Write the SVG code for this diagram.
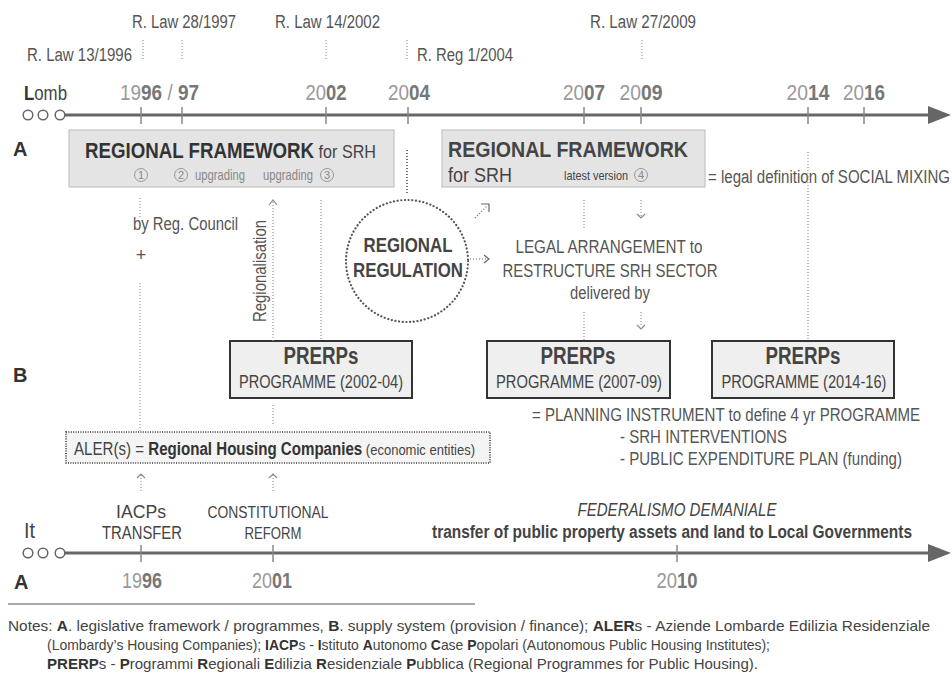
<svg xmlns="http://www.w3.org/2000/svg" width="952" height="679" viewBox="0 0 952 679">
  <defs>
    <style>
      text { font-family: "Liberation Sans Narrow", "Liberation Sans", Arial, sans-serif; fill: #444; }
      .b { font-weight: bold; }
      .law { font-size: 18px; fill: #555; }
      .yr { font-size: 22px; fill: #999; }
      .yr .b { fill: #777; }
      .lbl { font-size: 20px; font-weight: bold; fill: #333; }
      .dot { stroke: #999; stroke-width: 1.2; stroke-dasharray: 1 2; fill: none; }
      .chev { stroke: #888; stroke-width: 1.2; fill: none; }
      .tick { stroke: #888; stroke-width: 1.5; }
      .axis { stroke: #666; stroke-width: 3; fill: none; }
      .ring { stroke: #666; stroke-width: 1.5; fill: #fff; }
      .fw { fill: #e4e4e4; stroke: #c4c4c4; stroke-width: 1.2; }
      .pr { fill: #efefef; stroke: #333; stroke-width: 2; }
      .num circle { fill: none; stroke: #999; stroke-width: 1; }
      .num text { font-size: 11px; fill: #888; text-anchor: middle; }
      .small { font-size: 14px; fill: #888; }
      .mid { font-size: 18px; fill: #555; }
    </style>
  </defs>

  <rect width="952" height="679" fill="#fff"/>

  <!-- Regional (Lombardy) timeline -->
  <g id="timeline-lomb">
    <text x="24" y="100" style="font-size:21px" textLength="43" lengthAdjust="spacingAndGlyphs"><tspan class="b" fill="#333">L</tspan><tspan fill="#444">omb</tspan></text>
    <circle class="ring" cx="28" cy="115" r="4.8"/>
    <circle class="ring" cx="43" cy="115" r="4.8"/>
    <line class="axis" x1="65" y1="115" x2="930" y2="115"/>
    <path d="M928,106 L951,115 L928,124 Z" fill="#666"/>
    <circle class="ring" cx="60" cy="115" r="4.8"/>
    <line class="tick" x1="141" y1="107" x2="141" y2="124"/>
    <line class="tick" x1="182" y1="107" x2="182" y2="124"/>
    <line class="tick" x1="326" y1="107" x2="326" y2="124"/>
    <line class="tick" x1="408" y1="107" x2="408" y2="124"/>
    <line class="tick" x1="584" y1="107" x2="584" y2="124"/>
    <line class="tick" x1="641" y1="107" x2="641" y2="124"/>
    <line class="tick" x1="808" y1="107" x2="808" y2="124"/>
    <line class="tick" x1="864" y1="107" x2="864" y2="124"/>
    <text class="yr" x="120" y="100" textLength="79" lengthAdjust="spacingAndGlyphs">19<tspan class="b">96</tspan> / <tspan class="b">97</tspan></text>
    <text class="yr" x="326" y="100" text-anchor="middle" textLength="41" lengthAdjust="spacingAndGlyphs">20<tspan class="b">02</tspan></text>
    <text class="yr" x="409" y="100" text-anchor="middle" textLength="42" lengthAdjust="spacingAndGlyphs">20<tspan class="b">04</tspan></text>
    <text class="yr" x="584" y="100" text-anchor="middle" textLength="42" lengthAdjust="spacingAndGlyphs">20<tspan class="b">07</tspan></text>
    <text class="yr" x="641" y="100" text-anchor="middle" textLength="43" lengthAdjust="spacingAndGlyphs">20<tspan class="b">09</tspan></text>
    <text class="yr" x="808" y="100" text-anchor="middle" textLength="43" lengthAdjust="spacingAndGlyphs">20<tspan class="b">14</tspan></text>
    <text class="yr" x="864" y="100" text-anchor="middle" textLength="42" lengthAdjust="spacingAndGlyphs">20<tspan class="b">16</tspan></text>
  </g>

  <!-- Laws and regulations -->
  <g id="laws">
    <text class="law" x="132" y="28" textLength="104" lengthAdjust="spacingAndGlyphs">R. Law 28/1997</text>
    <text class="law" x="275" y="28" textLength="105" lengthAdjust="spacingAndGlyphs">R. Law 14/2002</text>
    <text class="law" x="590" y="28" textLength="106" lengthAdjust="spacingAndGlyphs">R. Law 27/2009</text>
    <text class="law" x="27" y="61" textLength="105" lengthAdjust="spacingAndGlyphs">R. Law 13/1996</text>
    <text class="law" x="417" y="61" textLength="96" lengthAdjust="spacingAndGlyphs">R. Reg 1/2004</text>
  </g>

  <!-- Row labels -->
  <g id="row-labels">
    <text class="lbl" x="13" y="156">A</text>
    <text class="lbl" x="13" y="382">B</text>
    <text class="lbl" x="14" y="589">A</text>
  </g>

  <!-- Regional framework, versions 1-3 -->
  <g id="framework-1">
    <rect class="fw" x="69" y="130" width="325" height="57"/>
    <text x="85" y="158" fill="#333" textLength="291" lengthAdjust="spacingAndGlyphs"><tspan class="b" style="font-size:22px" fill="#333">REGIONAL FRAMEWORK</tspan><tspan style="font-size:19px" fill="#444"> for SRH</tspan></text>
    <g class="num"><circle cx="141" cy="175" r="6.5"/><text x="141" y="179">1</text></g>
    <g class="num"><circle cx="181" cy="175" r="6.5"/><text x="181" y="179">2</text></g>
    <text class="small" x="195" y="180" textLength="50" lengthAdjust="spacingAndGlyphs">upgrading</text>
    <text class="small" x="263" y="180" textLength="50" lengthAdjust="spacingAndGlyphs">upgrading</text>
    <g class="num"><circle cx="327" cy="175" r="6.5"/><text x="327" y="179">3</text></g>
  </g>

  <!-- Regional framework, latest version -->
  <g id="framework-2">
    <rect class="fw" x="442" y="130" width="263" height="57"/>
    <text class="b" x="448" y="157" style="font-size:22px" fill="#333" textLength="240" lengthAdjust="spacingAndGlyphs">REGIONAL FRAMEWORK</text>
    <text x="448" y="182" style="font-size:21px" fill="#444" textLength="64" lengthAdjust="spacingAndGlyphs">for SRH</text>
    <text x="564" y="180" style="font-size:13px" fill="#888" textLength="64" lengthAdjust="spacingAndGlyphs">latest version</text>
    <g class="num"><circle cx="641" cy="175" r="6.5"/><text x="641" y="179">4</text></g>
  </g>
  <text id="social-mixing" class="mid" x="708" y="183" fill="#555" textLength="242" lengthAdjust="spacingAndGlyphs">= legal definition of SOCIAL MIXING</text>

  <!-- Regional regulation -->
  <g id="regional-regulation">
    <circle cx="407" cy="261" r="61" fill="none" stroke="#555" stroke-width="2.2" stroke-dasharray="0.1 3.6" stroke-linecap="round"/>
    <text class="b" x="408" y="252" text-anchor="middle" style="font-size:20px" fill="#555" textLength="89" lengthAdjust="spacingAndGlyphs">REGIONAL</text>
    <text class="b" x="408" y="277" text-anchor="middle" style="font-size:20px" fill="#555" textLength="110" lengthAdjust="spacingAndGlyphs">REGULATION</text>
  </g>

  <g id="legal-arrangement">
    <text class="mid" x="609" y="253" text-anchor="middle" textLength="187" lengthAdjust="spacingAndGlyphs">LEGAL ARRANGEMENT to</text>
    <text class="mid" x="610" y="277" text-anchor="middle" textLength="215" lengthAdjust="spacingAndGlyphs">RESTRUCTURE SRH SECTOR</text>
    <text class="mid" x="610" y="299" text-anchor="middle" textLength="80" lengthAdjust="spacingAndGlyphs">delivered by</text>
  </g>

  <g id="by-council">
    <text class="mid" x="133" y="230" textLength="105" lengthAdjust="spacingAndGlyphs">by Reg. Council</text>
    <text class="mid" x="141" y="261" text-anchor="middle">+</text>
  </g>

  <text id="regionalisation" class="mid" transform="translate(266,271) rotate(-90)" text-anchor="middle" textLength="102" lengthAdjust="spacingAndGlyphs">Regionalisation</text>

  <!-- PRERPs programmes -->
  <g id="prerps-2002">
    <rect class="pr" x="230" y="341" width="182" height="57"/>
    <text class="b" x="321" y="364" text-anchor="middle" style="font-size:23px" fill="#333" textLength="75" lengthAdjust="spacingAndGlyphs">PRERPs</text>
    <text x="321" y="388" text-anchor="middle" style="font-size:18px" fill="#555" textLength="164" lengthAdjust="spacingAndGlyphs">PROGRAMME (2002-04)</text>
  </g>
  <g id="prerps-2007">
    <rect class="pr" x="487" y="341" width="183" height="57"/>
    <text class="b" x="578" y="364" text-anchor="middle" style="font-size:23px" fill="#333" textLength="75" lengthAdjust="spacingAndGlyphs">PRERPs</text>
    <text x="579" y="388" text-anchor="middle" style="font-size:18px" fill="#555" textLength="166" lengthAdjust="spacingAndGlyphs">PROGRAMME (2007-09)</text>
  </g>
  <g id="prerps-2014">
    <rect class="pr" x="712" y="341" width="182" height="57"/>
    <text class="b" x="803" y="364" text-anchor="middle" style="font-size:23px" fill="#333" textLength="75" lengthAdjust="spacingAndGlyphs">PRERPs</text>
    <text x="804" y="388" text-anchor="middle" style="font-size:18px" fill="#555" textLength="165" lengthAdjust="spacingAndGlyphs">PROGRAMME (2014-16)</text>
  </g>

  <g id="planning-instrument">
    <text class="mid" x="532" y="421" textLength="388" lengthAdjust="spacingAndGlyphs">= PLANNING INSTRUMENT to define 4 yr PROGRAMME</text>
    <text class="mid" x="620" y="443" textLength="167" lengthAdjust="spacingAndGlyphs">- SRH INTERVENTIONS</text>
    <text class="mid" x="620" y="465" textLength="282" lengthAdjust="spacingAndGlyphs">- PUBLIC EXPENDITURE PLAN (funding)</text>
  </g>

  <!-- Regional housing companies -->
  <g id="aler">
    <rect x="66" y="432" width="424" height="31" fill="#f4f4f4" stroke="#333" stroke-width="1.6" stroke-dasharray="1 1.4"/>
    <text x="74" y="455" style="font-size:18px" fill="#444" textLength="401" lengthAdjust="spacingAndGlyphs">ALER(s) = <tspan class="b" fill="#333">Regional Housing Companies</tspan><tspan style="font-size:15.5px"> (economic entities)</tspan></text>
  </g>

  <g id="iacps-transfer">
    <text x="141" y="518" text-anchor="middle" style="font-size:18px" fill="#444" textLength="50" lengthAdjust="spacingAndGlyphs">IACPs</text>
    <text x="142" y="539" text-anchor="middle" style="font-size:18px" fill="#444" textLength="80" lengthAdjust="spacingAndGlyphs">TRANSFER</text>
  </g>
  <g id="constitutional-reform">
    <text x="268" y="518" text-anchor="middle" style="font-size:16.5px" fill="#888" textLength="121" lengthAdjust="spacingAndGlyphs">CONSTITUTIONAL</text>
    <text x="273" y="539" text-anchor="middle" style="font-size:16.5px" fill="#888" textLength="57" lengthAdjust="spacingAndGlyphs">REFORM</text>
  </g>
  <g id="federalismo">
    <text x="677" y="516" text-anchor="middle" style="font-size:18px;font-style:italic" fill="#666" textLength="199" lengthAdjust="spacingAndGlyphs">FEDERALISMO DEMANIALE</text>
    <text class="b" x="672" y="538" text-anchor="middle" style="font-size:18px" fill="#333" textLength="480" lengthAdjust="spacingAndGlyphs">transfer of public property assets and land to Local Governments</text>
  </g>

  <!-- National (Italy) timeline -->
  <g id="timeline-it">
    <text x="24" y="538" style="font-size:22px" fill="#777" textLength="11" lengthAdjust="spacingAndGlyphs">It</text>
    <circle class="ring" cx="28" cy="553" r="4.8"/>
    <circle class="ring" cx="43" cy="553" r="4.8"/>
    <line class="axis" x1="65" y1="553" x2="930" y2="553"/>
    <path d="M928,544 L951,553 L928,562 Z" fill="#666"/>
    <circle class="ring" cx="60" cy="553" r="4.8"/>
    <line class="tick" x1="141" y1="545" x2="141" y2="562"/>
    <line class="tick" x1="273" y1="545" x2="273" y2="562"/>
    <line class="tick" x1="677" y1="545" x2="677" y2="562"/>
    <text class="yr" x="142" y="588" text-anchor="middle" textLength="40" lengthAdjust="spacingAndGlyphs">19<tspan class="b">96</tspan></text>
    <text class="yr" x="272" y="588" text-anchor="middle" textLength="40" lengthAdjust="spacingAndGlyphs">20<tspan class="b">01</tspan></text>
    <text class="yr" x="677" y="588" text-anchor="middle" textLength="41" lengthAdjust="spacingAndGlyphs">20<tspan class="b">10</tspan></text>
  </g>

  <!-- Connectors -->
  <g id="connectors">
    <line class="dot" x1="143" y1="40" x2="143" y2="60"/>
    <line class="dot" x1="182" y1="40" x2="182" y2="60"/>
    <line class="dot" x1="326" y1="40" x2="326" y2="60"/>
    <line class="dot" x1="407" y1="40" x2="407" y2="60"/>
    <line class="dot" x1="642" y1="40" x2="642" y2="60"/>

    <line class="dot" x1="140" y1="198" x2="140" y2="217"/>
    <line class="dot" x1="140" y1="283" x2="140" y2="432"/>

    <line class="dot" x1="273" y1="202" x2="273" y2="341"/>
    <path class="chev" d="M269,205 L273,200 L277,205"/>
    <line class="dot" x1="273" y1="405" x2="273" y2="425"/>

    <line class="dot" x1="321" y1="200" x2="321" y2="341"/>

    <line class="dot" x1="407" y1="150" x2="407" y2="195" style="stroke:#555;stroke-width:1.6"/>

    <line class="dot" x1="475" y1="218" x2="487" y2="206" style="stroke:#666"/>
    <path class="chev" d="M481,204 L489,204 L489,212" style="stroke:#666"/>
    <line class="dot" x1="470" y1="259" x2="487" y2="259" style="stroke:#666"/>
    <path class="chev" d="M484,255 L489,259 L484,263" style="stroke:#666"/>

    <line class="dot" x1="584" y1="200" x2="584" y2="228"/>
    <line class="dot" x1="641" y1="200" x2="641" y2="216"/>
    <path class="chev" d="M637,214 L641,218 L645,214"/>

    <line class="dot" x1="584" y1="312" x2="584" y2="341"/>
    <line class="dot" x1="641" y1="312" x2="641" y2="327"/>
    <path class="chev" d="M637,325 L641,329 L645,325"/>

    <line class="dot" x1="808" y1="152" x2="808" y2="341"/>

    <line class="dot" x1="141" y1="475" x2="141" y2="492"/>
    <path class="chev" d="M137,478 L141,474 L145,478"/>
    <line class="dot" x1="273" y1="475" x2="273" y2="492"/>
    <path class="chev" d="M269,478 L273,474 L277,478"/>
  </g>

  <!-- Notes -->
  <g id="notes">
    <line x1="8" y1="604" x2="475" y2="604" stroke="#aaa" stroke-width="2"/>
    <text x="8" y="631" style="font-size:15px" fill="#555" textLength="922" lengthAdjust="spacingAndGlyphs">Notes: <tspan class="b" fill="#333">A</tspan>. legislative framework / programmes, <tspan class="b" fill="#333">B</tspan>. supply system (provision / finance); <tspan class="b" fill="#333">ALER</tspan>s - Aziende Lombarde Edilizia Residenziale</text>
    <text x="47" y="650" style="font-size:15px" fill="#555" textLength="723" lengthAdjust="spacingAndGlyphs">(Lombardy’s Housing Companies); <tspan class="b" fill="#333">IACP</tspan>s - <tspan class="b" fill="#333">I</tspan>stituto <tspan class="b" fill="#333">A</tspan>utonomo <tspan class="b" fill="#333">C</tspan>ase <tspan class="b" fill="#333">P</tspan>opolari (Autonomous Public Housing Institutes);</text>
    <text x="47" y="669" style="font-size:15px" fill="#555" textLength="711" lengthAdjust="spacingAndGlyphs"><tspan class="b" fill="#333">PRERP</tspan>s - <tspan class="b" fill="#333">P</tspan>rogrammi <tspan class="b" fill="#333">R</tspan>egionali <tspan class="b" fill="#333">E</tspan>dilizia <tspan class="b" fill="#333">R</tspan>esidenziale <tspan class="b" fill="#333">P</tspan>ubblica (Regional Programmes for Public Housing).</text>
  </g>
</svg>
